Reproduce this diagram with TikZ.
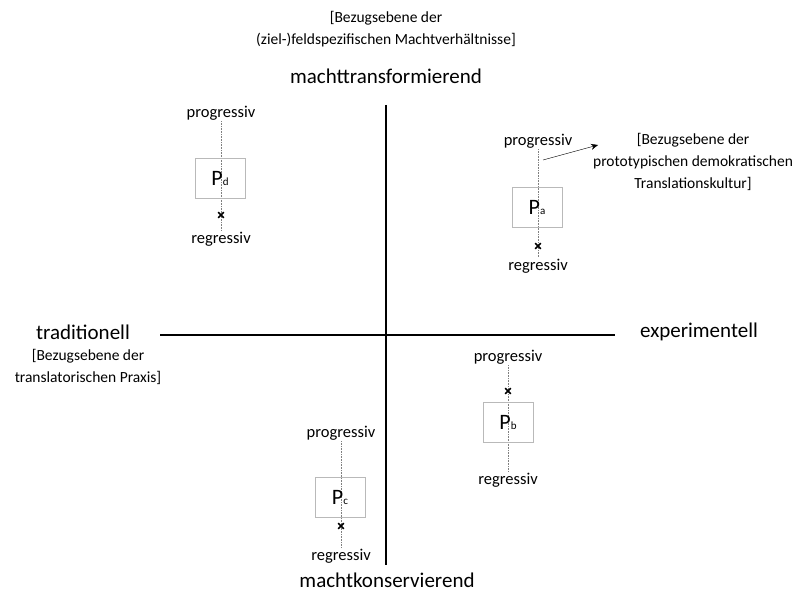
\documentclass[tikz,border=0pt]{standalone}
\usepackage{fontspec}
\setmainfont{Carlito}
\usetikzlibrary{positioning,shapes.misc,arrows.meta}

\newcommand{\psub}[1]{{\fontsize{11}{11}\selectfont #1}}

\tikzset{
	axislabel/.style={font=\fontsize{21}{24}\selectfont},
	notelabel/.style={font=\fontsize{15.5}{22}\selectfont, align=center},
	poslabel/.style={font=\fontsize{16.5}{19}\selectfont, inner sep=1pt},
	pbox/.style={draw=gray!55, minimum width=50pt, minimum height=40pt, font=\fontsize{22}{24}\selectfont},
	xmark/.style={cross out, draw, line width=1.6pt, minimum size=4pt, inner sep=0pt},
	scaleline/.style={gray, densely dotted, line width=0.6pt}
}

\begin{document}
\begin{tikzpicture}[x=1pt, y=-1pt]
	\useasboundingbox (0, 0) rectangle (799, 593);

	% axes
	\coordinate (top) at (386, 105);
	\coordinate (bottom) at (386, 565);
	\coordinate (left) at (160, 335);
	\coordinate (right) at (615, 335);
	\draw[line width=1.6pt] (top) -- (bottom);
	\draw[line width=1.6pt] (left) -- (right);

	\node[axislabel] (mt) at (386, 76) {machttransformierend};
	\node[axislabel, anchor=base, inner sep=0pt] (mk) at (387, 587) {machtkonservierend};
	\node[axislabel] (trad) at (83, 332) {traditionell};
	\node[axislabel] (exp) at (699, 332) {experimentell};

	\node[notelabel] (feld) at (386, 29) {[Bezugsebene der\\(ziel-)feldspezifischen Machtverhältnisse]};
	\node[notelabel] (praxis) at (88, 367) {[Bezugsebene der\\translatorischen Praxis]};
	\node[notelabel, inner sep=0pt] (kultur) at (693, 162) {[Bezugsebene der\\prototypischen demokratischen\\Translationskultur]};

	% P_d
	\node[poslabel] (dprog) at (221, 113) {progressiv};
	\node[poslabel] (dreg) at (221, 239) {regressiv};
	\draw[scaleline] (dprog) -- (dreg);
	\node[pbox] (pd) at (220, 178) {P\psub{d}};
	\node[xmark] (dx) at (221, 215) {};

	% P_a
	\node[poslabel] (aprog) at (538, 141) {progressiv};
	\node[poslabel] (areg) at (538, 266) {regressiv};
	\draw[scaleline] (aprog) -- (areg);
	\node[pbox] (pa) at (537, 207) {P\psub{a}};
	\node[xmark] (ax) at (538, 246) {};
	\coordinate (astart) at (543, 160);
	\coordinate (aend) at (598, 145);
	\draw[-{Stealth[length=7pt, width=6pt]}] (astart) -- (aend);

	% P_b
	\node[poslabel] (bprog) at (508, 357) {progressiv};
	\node[poslabel] (breg) at (508, 480) {regressiv};
	\draw[scaleline] (bprog) -- (breg);
	\node[pbox] (pb) at (508, 422) {P\psub{b}};
	\node[xmark] (bx) at (508, 391) {};

	% P_c
	\node[poslabel] (cprog) at (341, 433) {progressiv};
	\node[poslabel] (creg) at (341, 556) {regressiv};
	\draw[scaleline] (cprog) -- (creg);
	\node[pbox] (pc) at (340, 497) {P\psub{c}};
	\node[xmark] (cx) at (341, 526) {};

\end{tikzpicture}
\end{document}
